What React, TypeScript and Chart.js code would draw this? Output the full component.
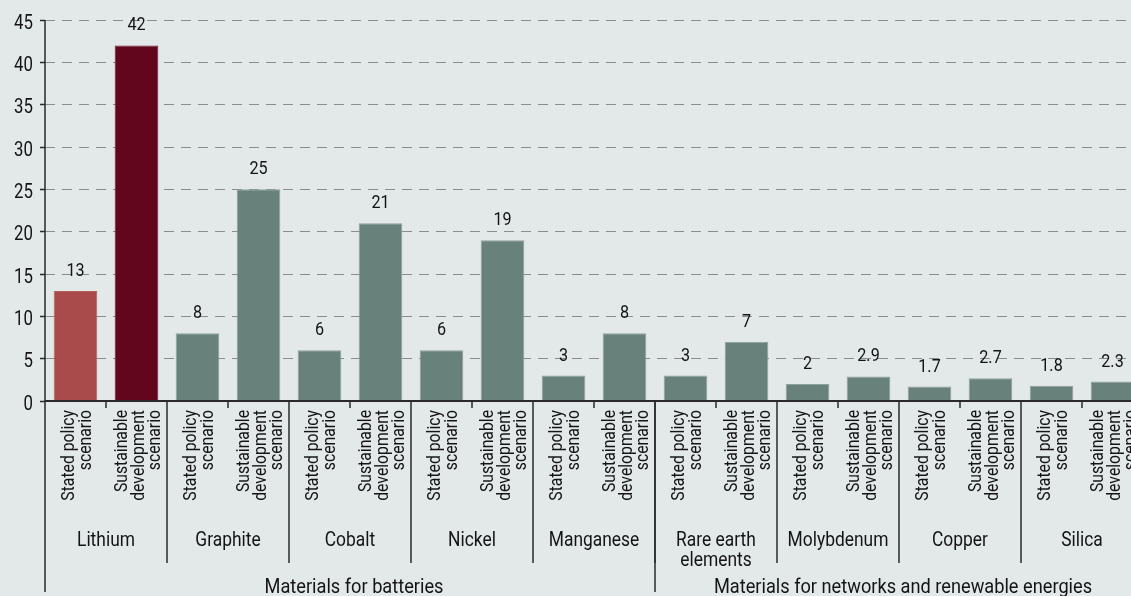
import React, { useEffect, useRef } from "react";
import { Chart, registerables } from "chart.js";

Chart.register(...registerables);

// ---- data ----
const materials: string[][] = [
  ["Lithium"],
  ["Graphite"],
  ["Cobalt"],
  ["Nickel"],
  ["Manganese"],
  ["Rare earth", "elements"],
  ["Molybdenum"],
  ["Copper"],
  ["Silica"],
];
const statedPolicy = [13, 8, 6, 6, 3, 3, 2, 1.7, 1.8];
const sustainableDev = [42, 25, 21, 19, 8, 7, 2.9, 2.7, 2.3];
const scenarioLabels: string[][] = [
  ["Stated policy", "scenario"],
  ["Sustainable", "development", "scenario"],
];
const groupLabels = ["Materials for batteries", "Materials for networks and renewable energies"];
const groupSizes = [5, 4];
const yMin = 0;
const yMax = 45;
const yStep = 5;

// ---- styles ----
const BG = "#e3e8e8";
const TEXT = "#141414";
const AXIS = "#2a2a2a";
const GRID = "#8c8c8c";
const GREY = "#68817b";
const GREY_EDGE = "#8ea19c";
const RED_LIGHT = "#aa4b4b";
const RED_DARK = "#61061d";
const FONT = "Roboto";

const labels = materials.flatMap((m) => [`${m.join(" ")} SP`, `${m.join(" ")} SD`]);
const values = materials.flatMap((_, i) => [statedPolicy[i], sustainableDev[i]]);

function barColor(i: number) {
  if (i === 0) return RED_LIGHT;
  if (i === 1) return RED_DARK;
  return GREY;
}
function barEdge(i: number) {
  if (i === 0) return "#b45d5d";
  if (i === 1) return "#6f1a2d";
  return GREY_EDGE;
}

function drawText(
  ctx: CanvasRenderingContext2D,
  text: string,
  x: number,
  y: number,
  size: number,
  align: CanvasTextAlign,
  sx: number,
  rotate = 0
) {
  ctx.save();
  ctx.translate(x, y);
  if (rotate) ctx.rotate(rotate);
  ctx.scale(sx, 1);
  ctx.font = `${size}px ${FONT}`;
  ctx.fillStyle = TEXT;
  ctx.textAlign = align;
  ctx.textBaseline = "alphabetic";
  ctx.fillText(text, 0, 0);
  ctx.restore();
}

const bgPlugin = {
  id: "bg",
  beforeDraw(chart: any) {
    const { ctx, width, height } = chart;
    ctx.save();
    ctx.fillStyle = BG;
    ctx.fillRect(0, 0, width, height);
    ctx.restore();
  },
};

const decorPlugin = {
  id: "decor",
  afterDatasetsDraw(chart: any) {
    const { ctx, chartArea } = chart;
    const xs = chart.scales.x;
    const ys = chart.scales.y;
    const bottom = ys.getPixelForValue(0);
    const left = chartArea.left;
    const step = xs.getPixelForValue(1) - xs.getPixelForValue(0);

    ctx.save();
    ctx.strokeStyle = AXIS;
    // x axis line
    ctx.lineWidth = 2;
    ctx.beginPath();
    ctx.moveTo(left, bottom);
    ctx.lineTo(chart.width, bottom);
    ctx.stroke();
    // y axis line
    ctx.lineWidth = 1.5;
    ctx.beginPath();
    ctx.moveTo(left, ys.getPixelForValue(yMax));
    ctx.lineTo(left, bottom + 191);
    ctx.stroke();

    // scenario ticks & material separators
    ctx.lineWidth = 1.5;
    for (let i = 0; i < labels.length; i++) {
      const bx = xs.getPixelForValue(i) + step / 2;
      const isMaterialEnd = i % 2 === 1;
      const len = isMaterialEnd ? 162 : 7;
      ctx.beginPath();
      ctx.moveTo(bx, bottom);
      ctx.lineTo(bx, bottom + len);
      ctx.stroke();
    }
    // group separators
    let acc = 0;
    for (let g = 0; g < groupSizes.length - 1; g++) {
      acc += groupSizes[g];
      const bx = xs.getPixelForValue(acc * 2 - 1) + step / 2;
      ctx.beginPath();
      ctx.moveTo(bx, bottom);
      ctx.lineTo(bx, bottom + 191);
      ctx.stroke();
    }
    ctx.restore();

    // y tick labels
    ys.ticks.forEach((t: any) => {
      const y = ys.getPixelForValue(t.value);
      drawText(ctx, String(t.value), left - 12, y + 8.5, 20, "right", 0.84);
    });

    // value labels
    const meta = chart.getDatasetMeta(0);
    meta.data.forEach((bar: any, i: number) => {
      drawText(ctx, String(values[i]), bar.x, bar.y - 15, 19, "center", 0.85);
    });

    // rotated scenario labels
    const lh = 16.5;
    const cap = 14;
    for (let i = 0; i < labels.length; i++) {
      const cx = xs.getPixelForValue(i);
      const lines = scenarioLabels[i % 2];
      const H = cap + (lines.length - 1) * lh;
      lines.forEach((ln, k) => {
        const bx = cx - H / 2 + cap + k * lh;
        drawText(ctx, ln, bx, bottom + 9, 19, "right", 0.83, -Math.PI / 2);
      });
    }

    // material labels
    materials.forEach((m, j) => {
      const cx = (xs.getPixelForValue(2 * j) + xs.getPixelForValue(2 * j + 1)) / 2;
      m.forEach((ln, k) => {
        drawText(ctx, ln, cx, bottom + 145 + k * 20, 20, "center", 0.87);
      });
    });

    // group labels
    let start = 0;
    groupLabels.forEach((gl, g) => {
      const end = start + groupSizes[g] * 2 - 1;
      const x0 = xs.getPixelForValue(start) - step / 2;
      const x1 = xs.getPixelForValue(end) + step / 2;
      drawText(ctx, gl, (x0 + x1) / 2 + 4, bottom + 192, 20, "center", 0.91);
      start = end + 1;
    });
  },
};

export default function App() {
  const ref = useRef<HTMLCanvasElement | null>(null);
  useEffect(() => {
    if (!ref.current) return;
    const chart = new Chart(ref.current, {
      type: "bar",
      data: {
        labels,
        datasets: [
          {
            data: values,
            backgroundColor: values.map((_, i) => barColor(i)),
            borderColor: values.map((_, i) => barEdge(i)),
            borderWidth: 1,
            barPercentage: 0.715,
            categoryPercentage: 1,
          },
        ],
      },
      options: {
        responsive: false,
        animation: false,
        devicePixelRatio: 1,
        layout: { padding: { left: 0, right: 0, top: 20, bottom: 195 } },
        plugins: {
          legend: { display: false },
          tooltip: { enabled: false },
          title: { display: false },
        },
        scales: {
          x: {
            type: "category",
            offset: true,
            grid: { display: false },
            border: { display: false },
            ticks: { display: false },
            afterFit: (s: any) => {
              s.height = 0;
            },
          },
          y: {
            min: yMin,
            max: yMax,
            ticks: { stepSize: yStep, display: false },
            grid: {
              color: GRID,
              lineWidth: 1,
              tickLength: 5,
              tickColor: AXIS,
              tickWidth: 1.5,
              tickBorderDash: [],
            },
            border: { display: false, dash: [10, 7] },
            afterFit: (s: any) => {
              s.width = 45;
            },
          },
        },
      },
      plugins: [bgPlugin, decorPlugin],
    });
    return () => chart.destroy();
  }, []);

  return (
    <div
      style={{
        position: "fixed",
        left: 0,
        top: 0,
        width: 1131,
        height: 596,
        overflow: "hidden",
        background: BG,
      }}
    >
      <canvas ref={ref} width={1143} height={596} style={{ display: "block" }} />
    </div>
  );
}
